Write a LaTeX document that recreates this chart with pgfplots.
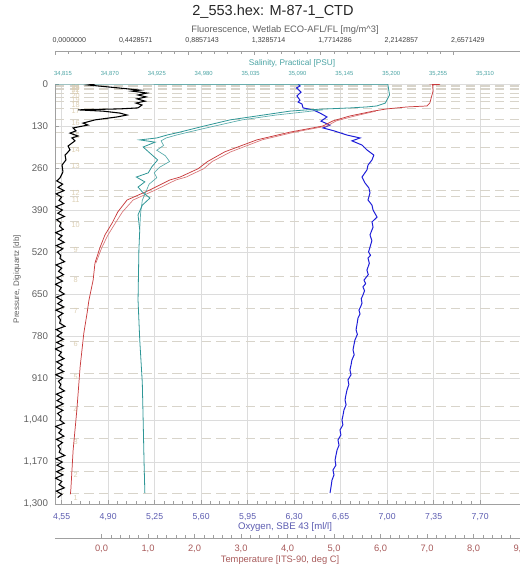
\documentclass[border=0pt]{standalone}
\usepackage{pgfplots}
\pgfplotsset{compat=1.18}
\usepackage{fontspec}
\setmainfont{Liberation Sans}

\definecolor{salt}{HTML}{2E9696}
\definecolor{saltlab}{HTML}{4AA3A3}
\definecolor{oxy}{HTML}{1E1ED8}
\definecolor{oxylab}{HTML}{5B5BB0}
\definecolor{temp}{HTML}{C83A3C}
\definecolor{templab}{HTML}{A85A5A}
\definecolor{gridc}{HTML}{DCDCDC}
\definecolor{bottle}{HTML}{D8D4CA}
\definecolor{bottlelab}{HTML}{DCCFB4}
\definecolor{axc}{HTML}{A0A0A0}
\definecolor{labc}{HTML}{606060}

\newcommand\fs[1]{\fontsize{#1}{#1}\selectfont}

\pgfplotsset{
  profile/.style={scale only axis, width=348.75pt, height=315pt,
    at={(0,0)}, anchor=south west, ymin=0, ymax=1300, y dir=reverse},
  ticksonly/.style={scale only axis, width=348.75pt, height=1pt,
    ymin=0, ymax=1, hide y axis, axis line style={axc,-},
    tick style={axc, line width=0.4pt}, major tick length=3pt,
    minor tick length=2pt, minor x tick num=4},
}

\begin{document}
\begin{tikzpicture}
\path[use as bounding box] (-41.25pt,-48pt) rectangle (348.75pt,378pt);

% pressure axis, grid, bottles and oxygen
\begin{axis}[profile, name=main,
  xmin=4.5, xmax=8.0,
  axis line style={draw=none},
  xtick pos=left, ytick pos=left,
  xtick={4.55,4.90,5.25,5.60,5.95,6.30,6.65,7.00,7.35,7.70},
  xticklabels={{4,55},{4,90},{5,25},{5,60},{5,95},{6,30},{6,65},{7,00},{7,35},{7,70}},
  minor x tick num=4,
  ytick={0,130,...,1300},
  yticklabels={0,130,260,390,520,650,780,910,{1,040},{1,170},{1,300}},
  tick style={axc, line width=0.4pt}, major tick length=3pt, minor tick length=2pt,
  xmajorgrids, ymajorgrids, major grid style={gridc, line width=0.45pt},
  xticklabel style={font=\fs{6.5}, text=oxylab, anchor=center, yshift=-9.75pt, inner sep=0pt},
  yticklabel style={font=\fs{7.3}, text=labc, anchor=east, xshift=-5pt, inner sep=0pt},
  extra y ticks={3,7,12,18,28,40,55,75,110,150,195,245,328,349,426,505,596,694,795,895,999,1097,1200,1268},
  extra y tick labels={},
  extra y tick style={grid=major, major tick length=0pt,
    major grid style={bottle, line width=0.5pt, dash pattern=on 7pt off 4pt}},
]
\addplot[oxy, line width=0.75pt] coordinates {
  (6.329,0) (6.345,6) (6.318,12) (6.352,25) (6.321,37) (6.344,50) (6.330,56)
  (6.359,62) (6.367,74) (6.442,80) (6.495,90) (6.547,102) (6.502,115) (6.570,127)
  (6.517,136) (6.600,145) (6.698,158) (6.796,167) (6.735,176) (6.811,189)
  (6.848,204) (6.900,220) (6.886,235) (6.856,251) (6.848,266) (6.811,288)
  (6.833,306) (6.863,322) (6.871,337) (6.856,359) (6.886,375) (6.894,390)
  (6.924,412) (6.886,427) (6.894,443) (6.871,467) (6.885,485) (6.871,505)
  (6.860,520) (6.875,530) (6.856,539) (6.866,555) (6.848,576) (6.858,590)
  (6.826,607) (6.838,618) (6.818,628) (6.830,640) (6.818,653) (6.805,665)
  (6.811,678) (6.800,690) (6.788,700) (6.796,712) (6.781,724) (6.774,742)
  (6.766,761) (6.776,775) (6.758,792) (6.750,808) (6.743,823) (6.752,838)
  (6.735,854) (6.728,870) (6.720,885) (6.728,900) (6.705,916) (6.712,930)
  (6.698,947) (6.690,962) (6.683,978) (6.691,993) (6.675,1009) (6.668,1025)
  (6.660,1040) (6.667,1055) (6.645,1071) (6.652,1086) (6.630,1102) (6.638,1118)
  (6.623,1133) (6.615,1149) (6.608,1164) (6.614,1180) (6.592,1195) (6.600,1210)
  (6.585,1226) (6.578,1246) (6.570,1266)
};
\foreach \n/\p in {1/1280,2/1210,3/1108,4/1010,5/906,6/806,7/704,8/606,9/515,10/436,11/359,12/336,13/255,14/205,15/160,16/120,17/84,18/64,19/48,20/36,21/26,22/19,23/13,24/8}{
  \edef\tmp{\noexpand\node[font=\noexpand\fs{5.5}, text=bottlelab, inner sep=0pt] at (axis cs:4.655,\p) {\n};}
  \tmp
}
\end{axis}
\draw[axc, line width=0.45pt] (main.north west) -- (main.south west) -- (main.south east);

% temperature
\begin{axis}[profile, xmin=-1, xmax=9, hide x axis, hide y axis]
\addplot[temp!70!white, line width=0.5pt] coordinates {
  (5.90,84) (5.45,99) (5.05,114) (4.85,130) (4.15,149) (3.45,173) (2.78,210)
  (2.38,240) (2.20,262) (1.82,288) (1.60,297) (1.16,328) (0.68,359) (0.45,396)
  (0.30,430) (0.14,467) (0.01,505) (-0.12,554)
};
\addplot[temp, line width=0.55pt] coordinates {
  (7.05,0) (7.28,1) (7.12,3) (7.13,22) (7.06,59) (7.00,68) (6.57,71) (6.14,77)
  (5.84,84) (5.34,99) (4.98,114) (4.76,130) (4.05,149) (3.34,173) (2.65,210)
  (2.28,240) (2.08,262) (1.69,288) (1.47,297) (1.04,328) (0.55,359) (0.35,396)
  (0.23,430) (0.075,467) (-0.03,505) (-0.14,554) (-0.18,607) (-0.27,669)
  (-0.31,709) (-0.38,771) (-0.46,876) (-0.53,1009) (-0.61,1133) (-0.66,1257)
  (-0.67,1270)
};
\end{axis}
\begin{axis}[ticksonly, at={(0,-25.5pt)}, anchor=south west,
  xmin=-1, xmax=9, axis x line*=bottom,
  xtick={0,...,9},
  xticklabels={{0,0},{1,0},{2,0},{3,0},{4,0},{5,0},{6,0},{7,0},{8,0},{9,0}},
  xticklabel style={font=\fs{7}, text=templab, anchor=center, yshift=-8.25pt, inner sep=0pt}]
\end{axis}

% salinity
\begin{axis}[profile, xmin=34.8056, xmax=35.351, hide y axis,
  axis x line*=top, axis line style={draw=none}, major tick length=0pt,
  xtick={34.815,34.870,34.925,34.980,35.035,35.090,35.145,35.200,35.255,35.310},
  xticklabels={{34,815},{34,870},{34,925},{34,980},{35,035},{35,090},{35,145},{35,200},{35,255},{35,310}},
  xticklabel style={font=\fs{4.4}, text=saltlab, anchor=center, yshift=7.5pt, inner sep=0pt}]
\addplot[salt!80!white, line width=0.5pt] coordinates {
  (35.12,80) (35.065,96) (35.025,111) (34.988,133) (34.962,149) (34.948,158)
  (34.936,167) (34.930,176) (34.933,190) (34.925,205) (34.935,222) (34.940,240)
  (34.928,258) (34.922,275) (34.925,290) (34.916,310) (34.912,335) (34.908,360)
  (34.906,400) (34.905,450)
};
\addplot[salt, line width=0.6pt] coordinates {
  (34.806,0) (35.196,1) (35.198,34) (35.193,59) (35.183,68) (35.171,71)
  (35.152,74) (35.125,77) (35.101,80) (35.081,84) (35.050,96) (35.011,111)
  (34.976,133) (34.952,149) (34.937,158) (34.925,167) (34.905,173) (34.923,180)
  (34.909,195) (34.917,214) (34.926,235) (34.919,257) (34.915,275) (34.901,288)
  (34.911,303) (34.903,319) (34.909,337) (34.917,353) (34.908,375) (34.903,405)
  (34.905,452) (34.904,514) (34.903,669) (34.905,792) (34.908,925) (34.909,1040)
  (34.910,1164) (34.911,1266)
};
\end{axis}

% fluorescence
\begin{axis}[profile, xmin=0, xmax=3.1, hide x axis, hide y axis]
\addplot[black, line width=0.8pt] coordinates {
  (0.267,0) (0.22,3) (0.42,12) (0.567,19) (0.513,22) (0.613,28) (0.553,34)
  (0.607,40) (0.547,46) (0.60,53) (0.54,59) (0.58,65) (0.553,74) (0.433,77)
  (0.153,80) (0.32,84) (0.433,90) (0.48,96) (0.413,102) (0.267,111) (0.187,121)
  (0.22,127) (0.12,136) (0.14,145) (0.10,152) (0.153,161) (0.113,167)
  (0.133,176) (0.087,192) (0.10,204) (0.067,220) (0.073,235) (0.047,251)
  (0.053,272) (0.033,291)
  (0.012,300) (0.051,310) (0.020,320) (0.060,330) (0.008,340) (0.044,350)
  (0.027,360) (0.058,370) (0.005,380) (0.049,390) (0.019,400) (0.063,410)
  (0.011,420) (0.040,430) (0.030,440) (0.055,450) (0.004,460) (0.047,470)
  (0.022,480) (0.061,490) (0.009,500) (0.052,510) (0.016,520) (0.038,530)
  (0.033,540) (0.064,550) (0.007,560) (0.045,570) (0.024,580) (0.057,590)
  (0.013,600) (0.050,610) (0.003,620) (0.042,630) (0.028,640) (0.062,650)
  (0.010,660) (0.048,670) (0.018,680) (0.059,690) (0.006,700) (0.053,710)
  (0.021,720) (0.037,730) (0.031,740) (0.066,750) (0.008,760) (0.046,770)
  (0.015,780) (0.056,790) (0.012,800) (0.054,810) (0.002,820) (0.043,830)
  (0.026,840) (0.060,850) (0.011,860) (0.049,870) (0.019,880) (0.058,890)
  (0.005,900) (0.051,910) (0.023,920) (0.039,930) (0.029,940) (0.063,950)
  (0.009,960) (0.047,970) (0.014,980) (0.055,990) (0.007,1000) (0.052,1010)
  (0.017,1020) (0.041,1030) (0.032,1040) (0.061,1050) (0.004,1060) (0.044,1070)
  (0.025,1080) (0.059,1090) (0.010,1100) (0.050,1110) (0.020,1120) (0.036,1130)
  (0.028,1140) (0.065,1150) (0.006,1160) (0.048,1170) (0.013,1180) (0.057,1190)
  (0.011,1200) (0.053,1210) (0.003,1220) (0.045,1230) (0.027,1240) (0.062,1250)
  (0.009,1260) (0.046,1270) (0.018,1280)
};
\end{axis}
\begin{axis}[ticksonly, at={(0,339.75pt)}, anchor=north west,
  xmin=0, xmax=3.1, axis x line*=top,
  xtick={0,0.4428571,0.8857143,1.3285714,1.7714286,2.2142857,2.6571429},
  xticklabels={{0,0000000},{0,4428571},{0,8857143},{1,3285714},{1,7714286},{2,2142857},{2,6571429}},
  xticklabel style={font=\fs{5.3}, text=black!75, anchor=west, xshift=-2pt, yshift=8.25pt, inner sep=0pt}]
\end{axis}

% titles
\node[font=\fs{10.9}, text=black!85] at (163.5pt,369pt) {2\_553.hex: M-87-1\_CTD};
\node[font=\fs{7}, text=labc] at (172.5pt,355.5pt) {Fluorescence, Wetlab ECO-AFL/FL [mg/m\textasciicircum 3]};
\node[font=\fs{6.2}, text=saltlab] at (177.75pt,330.75pt) {Salinity, Practical [PSU]};
\node[font=\fs{7.2}, text=oxylab] at (172.5pt,-17.25pt) {Oxygen, SBE 43 [ml/l]};
\node[font=\fs{7}, text=templab] at (168.75pt,-42pt) {Temperature [ITS-90, deg C]};
\node[font=\fs{6}, text=labc, rotate=90] at (-28.5pt,168.75pt) {Pressure, Digiquartz [db]};
\end{tikzpicture}
\end{document}
